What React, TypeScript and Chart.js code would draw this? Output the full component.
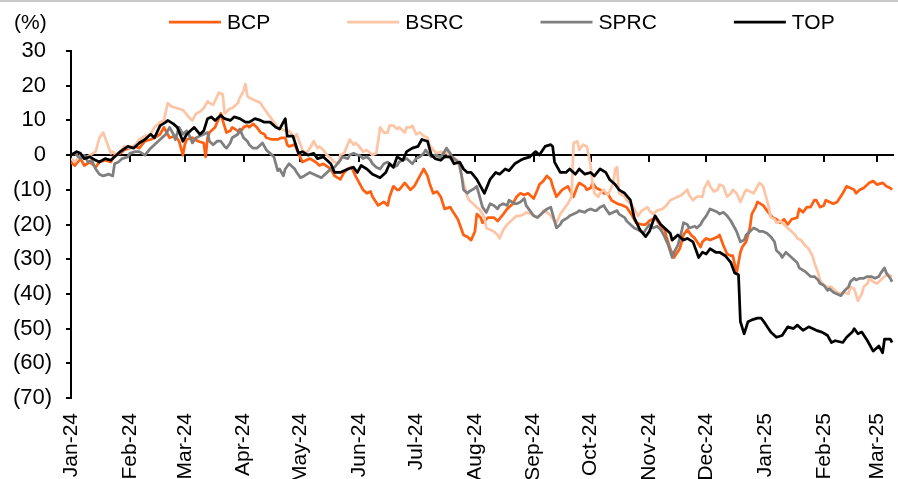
import React, { useEffect, useRef } from 'react';
import { Chart, registerables } from 'chart.js';

Chart.register(...registerables);

// x = calendar days since 1 Jan 2024, y = % change
const monthLabels = ['Jan-24', 'Feb-24', 'Mar-24', 'Apr-24', 'May-24', 'Jun-24', 'Jul-24', 'Aug-24', 'Sep-24', 'Oct-24', 'Nov-24', 'Dec-24', 'Jan-25', 'Feb-25', 'Mar-25'];
const seriesNames = ['BCP', 'BSRC', 'SPRC', 'TOP'];
const seriesColors = ['#FF6011', '#FCC5A5', '#7F7F7F', '#000000'];
const yMin = -70;
const yMax = 30;
const yStep = 10;
const lastDay = 434;

const bcpSeries: [number, number][] = [
  [0,-2],[2,-3],[5,-1],[7,-3],[10,-2],[13,-3.5],[15,-2],[18,-1.5],[21,-2],[23,0],[26,0.5],[28,1.5],[31,2],[34,2.5],[36,2],[39,4],[42,4.5],[44,5],[47,6],[49,8],[51,6],[52,5],[55,5.5],[57,4],[59,0],[60,3],[61,4.5],[64,5],[67,4],[70,3.5],[71,-0.5],[72,5],[73,6.5],[76,8],[79,12],[80,10],[82,6.5],[84,7],[85,8],[88,7],[89,6.5],[91,8],[93,8.5],[94,8],[96,9],[98,8],[100,6.5],[102,6],[103,5],[106,4.5],[109,4.5],[111,5],[113,5],[114,3],[115,2.5],[118,3],[120,0.5],
  [122,-2],[124,-1.5],[126,-1],[129,-2],[131,-3],[133,-2.5],[137,-4],[139,-6],[142,-7],[144,-5],[146,-4],[148,-3.5],[150,-6],[152,-8],[154,-10],[156,-11],[158,-10.5],[159,-12],[162,-14.5],[165,-13.5],[167,-14.5],[168,-12],[170,-9],[172,-10],[173,-10],[176,-8],[179,-10],[181,-9],[182,-8],[184,-6],[186,-4],[188,-6],[189,-8],[191,-11],[193,-10.5],[195,-12],[197,-15.5],[200,-15],[201,-16],[204,-18.5],[205,-20],[207,-23],[209,-23.5],[211,-24.5],[213,-22],[214,-17],[216,-18],[217,-19.5],[220,-18],[223,-18],[225,-19],[228,-17],[230,-15.5],[231,-15],[233,-14],[235,-12],[237,-11],[239,-11.5],[241,-11],[244,-12.5],[246,-10],[247,-8.5],[249,-7.5],[251,-6],[253,-7],[254,-9],[256,-12],[259,-10],[262,-9],[265,-12],[267,-9],[268,-8],[271,-9],[272,-10],[274,-9.5],[275,-8],[277,-9.5],[279,-10],
  [281,-11],[283,-11],[285,-13],[288,-14],[291,-14.5],[293,-15],[296,-17.5],[298,-19.5],[301,-20],[303,-20],[305,-19],[308,-18],[311,-20.5],[313,-21.5],[314,-23.5],[316,-27],[318,-29.5],[321,-27],[323,-23],[325,-21.5],[327,-23],[329,-24],[332,-26.5],[333,-25],[335,-24],[337,-24.5],[339,-24],[341,-23.5],[342,-23],[344,-26],[346,-28.5],[348,-29],[349,-29],[351,-34],[353,-28],[354,-26.5],[356,-25],[358,-21],[359,-17],[361,-15],[362,-13.5],[365,-14.5],[367,-16],[370,-18],[372,-18.5],[374,-19.5],[376,-18.5],[378,-20],[380,-18.5],[383,-18],[384,-15.5],[386,-16.5],[388,-15],[390,-15],[392,-13],[393,-13],[395,-15],[397,-14.5],[398,-13],[400,-13.5],[402,-14],[404,-13.5],[407,-11],[409,-9],[411,-9.5],[413,-10],[414,-11],[416,-10],[418,-9.5],[420,-8.5],[421,-8],[423,-7.5],[425,-8.5],[428,-8],[430,-9],[432,-9.5],[433,-10],
];

const bsrcSeries: [number, number][] = [
  [0,-1],[2,-2],[5,0],[7,-1],[10,0],[13,1],[15,5],[17,6.5],[18,5],[21,0.5],[22,1],[24,0],[26,1],[28,2.5],[31,2],[34,3],[36,4.5],[39,5.5],[42,6],[44,8],[47,9.5],[49,10],[51,15],[53,14],[56,13.5],[59,13],[62,11],[64,10],[66,12],[68,12.5],[70,13.5],[72,15.5],[73,15],[75,14.5],[78,18],[80,17.5],[81,12],[82,12.5],[84,13.5],[85,13.5],[88,15],[89,16.5],[91,18.5],[92,20.5],[93,17],[94,16.5],[96,16],[98,15.5],[100,15],[101,14],[103,12.5],[105,11],[107,9.5],[109,8],[111,7.5],[113,7],[115,7],[118,5],[119,6],
  [121,3],[122,1.5],[124,0.5],[126,2],[128,4],[130,2],[131,2.5],[133,1.5],[135,0],[137,-1],[139,-2],[141,-2.5],[142,0],[144,0.5],[147,4.5],[149,3],[150,3.5],[152,2.5],[154,1],[156,1.5],[159,0],[161,0.5],[163,8],[165,6.5],[167,6.5],[168,8.5],[170,8.5],[172,7.5],[173,8],[176,6.5],[177,8],[179,8],[180,8.5],[182,6],[184,6.5],[186,5.5],[188,5],[189,3],[191,1.5],[193,0.5],[195,1],[197,0.5],[198,1],[200,-1],[201,-0.5],[204,-1.5],[205,-4],[207,-8],[209,-12],[210,-13],[212,-14],[214,-15],[216,-16],[218,-18],[219,-21],[221,-21.5],[223,-22],[225,-23],[226,-24],[228,-21.5],[230,-20],[231,-19.5],[234,-18],[235,-17.5],[237,-17.5],[239,-17],[240,-16.5],[243,-17],[244,-17.5],[246,-18],[248,-17],[249,-16],[251,-16.5],[253,-17.5],[255,-19],[256,-19.5],[258,-17],[260,-15.5],[262,-14],[264,-12],[265,3.5],[267,4],[268,1.5],[270,3],[272,2.5],[273,0],[274,-3],[275,-8],[276,-11],[278,-12],[279,-11],
  [281,-10],[283,-11.5],[284,-10.5],[286,-8],[287,-4],[288,-3.5],[289,-11],[292,-12],[293,-13],[295,-14],[297,-15.5],[299,-17.5],[301,-16],[304,-15],[305,-16],[307,-17],[309,-16],[312,-15.5],[314,-14.5],[316,-13],[318,-12.5],[320,-12],[322,-11.5],[325,-10],[326,-11.5],[328,-13],[330,-12],[333,-12],[334,-9.5],[336,-7.5],[337,-9],[339,-10.5],[341,-10],[342,-8.5],[344,-9],[346,-12],[348,-11],[349,-10],[351,-11],[353,-13.5],[355,-11],[356,-10],[358,-10.5],[360,-11],[362,-9],[363,-8],[365,-9],[366,-11],[368,-15],[369,-18],[371,-18.5],[372,-19.5],[374,-19],[376,-20],[378,-21],[380,-22],[382,-23],[383,-24],[385,-24.5],[387,-26],[389,-27],[391,-29],[392,-31],[394,-34],[395,-36],[397,-37.5],[399,-38],[401,-38],[403,-39],[405,-40],[408,-39.5],[410,-40],[411,-38],[413,-38.5],[415,-42],[417,-40],[418,-38],[420,-37],[421,-35.5],[423,-36.5],[425,-37],[427,-36],[429,-35],[431,-34.5],[433,-35],
];

const sprcSeries: [number, number][] = [
  [0,0],[2,0.5],[5,-1],[7,0],[9,-2],[11,-1.5],[13,-4],[15,-5.5],[17,-6],[20,-5.5],[22,-6],[23,-2.5],[25,-2],[27,-1],[30,-0.5],[31,0.5],[34,1],[36,1],[39,0],[42,2],[44,3],[47,4.5],[50,6],[52,8],[54,6],[55,4.5],[57,8],[59,6],[61,7],[63,5],[64,3.5],[66,5],[68,5.5],[70,6],[72,6.5],[73,4],[75,3],[77,4],[79,4],[81,2.5],[82,2],[84,3.5],[85,5],[88,6],[89,7.5],[91,5],[93,4],[94,3],[96,2],[98,2],[100,3],[101,3.5],[103,1.5],[105,0.5],[107,-0.5],[109,-4.5],[110,-4],[112,-6],[113,-4],[115,-2.5],[118,-4],[119,-5],
  [121,-6.5],[123,-6],[126,-5],[128,-5.5],[130,-6],[132,-6.5],[135,-5],[137,-4],[139,-3.5],[142,-1.5],[143,-0.5],[146,-1],[147,0],[149,0.5],[151,0],[152,0],[154,-1],[156,-0.5],[158,-1.5],[159,-2.5],[161,-3.5],[163,-4],[165,-2.5],[167,-2],[169,-3],[170,-3.5],[172,-3],[173,-2],[175,-1.5],[177,-1],[179,-2],[180,-2.5],[182,-1],[184,-0.5],[186,0.5],[187,1.5],[189,0],[190,-0.5],[192,0],[195,-0.5],[197,1],[198,2],[200,0.5],[201,-0.5],[204,-2],[205,-3],[206,-6],[207,-10],[209,-11],[210,-10.5],[213,-9.5],[214,-9],[216,-13],[217,-15],[219,-16.5],[221,-14],[223,-14.5],[225,-15.5],[226,-14.5],[228,-14],[230,-14.5],[231,-13],[234,-14],[235,-14],[237,-13.5],[239,-12.5],[240,-14.5],[242,-16],[244,-17.5],[246,-18],[248,-17],[249,-16.5],[251,-15.5],[253,-15],[254,-17],[256,-21],[258,-20],[259,-19],[262,-18],[263,-17.5],[265,-17],[267,-16.5],[268,-16],[271,-16.5],[272,-16],[274,-15.5],[276,-16],[277,-16],[279,-15],
  [281,-14.5],[282,-15.5],[284,-17],[286,-16.5],[288,-16],[289,-17],[292,-18],[293,-19],[295,-20],[297,-21],[299,-21.5],[302,-22.5],[303,-21.5],[305,-20],[307,-21],[309,-20.5],[311,-21.5],[313,-23.5],[315,-26],[317,-29.5],[318,-28],[320,-26],[322,-22],[323,-19.5],[325,-20],[326,-21],[329,-20.5],[330,-21],[332,-20],[333,-19],[335,-17.5],[337,-15.5],[339,-16],[341,-16.5],[342,-17],[344,-16.5],[346,-17.5],[348,-19],[350,-21],[351,-22],[353,-25],[355,-24.5],[356,-23],[358,-22],[360,-21],[362,-21.5],[363,-22],[365,-22],[367,-22.5],[369,-23.5],[371,-25],[372,-27.5],[374,-28.5],[375,-29.5],[377,-28],[379,-29],[381,-30],[383,-31],[384,-32.5],[387,-33.5],[388,-34],[390,-35],[392,-35],[394,-36],[395,-37],[397,-37.5],[399,-39],[400,-38.5],[402,-39.5],[404,-40],[406,-40.5],[408,-39],[410,-38],[411,-36.5],[413,-35.5],[414,-36],[416,-35.5],[418,-35.5],[420,-35],[422,-35],[424,-35.5],[426,-35],[427,-34],[429,-32.5],[430,-34],[432,-35.5],[433,-36.5],
];

const topSeries: [number, number][] = [
  [0,0],[3,1],[5,0.5],[7,-1],[10,-0.5],[13,-1.5],[15,-2],[18,-1],[21,-1.5],[23,-0.5],[26,1],[30,2.5],[33,2],[36,3.5],[39,4.5],[42,6],[44,5],[47,8.5],[50,9.5],[51,10],[54,9],[56,8],[59,4],[61,6],[63,7],[65,8],[68,6],[70,7],[72,10.5],[74,11],[76,10],[79,11.5],[81,10.5],[84,10],[86,11],[89,10.5],[92,9.5],[94,9.5],[97,10.5],[100,10],[102,9.5],[105,9.5],[108,8],[110,7.5],[113,10.5],[114,5.5],[117,5.5],[120,0.5],
  [122,1],[125,0],[128,0.5],[130,-1],[133,-0.5],[137,-2.5],[139,-5],[142,-5],[146,-4],[149,-3.5],[151,-5],[153,-3],[156,-4],[159,-5.5],[163,-6.5],[166,-5],[168,-2.5],[170,-3.5],[172,-0.5],[175,-1.5],[177,1],[180,2],[183,2.5],[185,4.5],[188,4],[190,0],[192,-1],[195,-1.5],[197,-0.5],[200,-0.5],[202,-2.5],[205,-2],[207,-4],[209,-5],[211,-5],[214,-7],[216,-9],[218,-11],[221,-7],[224,-5],[226,-5.5],[229,-4],[231,-4.5],[234,-2.5],[237,-1.5],[239,-1],[242,-0.5],[245,1],[247,0],[250,2.5],[253,3],[254,2.5],[255,-2],[258,-5],[261,-5],[263,-4],[266,-5.5],[268,-4],[271,-5.5],[274,-5],[276,-6],[279,-4],
  [282,-5],[284,-7],[287,-8.5],[289,-10],[292,-11],[295,-13],[297,-18],[300,-21.5],[303,-23.5],[305,-22],[308,-17.5],[311,-20],[313,-21],[316,-22.5],[317,-24.5],[320,-23],[323,-24.5],[325,-24],[328,-25],[331,-29.5],[333,-28],[335,-28.5],[337,-27],[340,-28],[342,-28],[345,-29],[348,-31],[350,-34],[352,-34.5],[353,-48],[355,-51.5],[357,-48],[359,-47.5],[362,-47],[364,-47],[366,-48.5],[369,-51],[372,-52.5],[375,-52],[378,-49.5],[381,-50],[383,-49],[386,-50.5],[389,-49.5],[391,-50],[393,-50.5],[396,-51],[399,-52],[401,-54],[403,-53.5],[407,-54],[409,-52.5],[412,-51],[413,-50],[415,-51.5],[417,-51],[420,-53.5],[423,-56.5],[426,-55],[428,-57],[429,-53],[432,-53],[433,-54],
];

const allSeries = [bcpSeries, bsrcSeries, sprcSeries, topSeries];

const FONT = '"Liberation Sans", Arial, Helvetica, sans-serif';
const BASE = Date.UTC(2024, 0, 1);
const DAY_MS = 86400000;
const monthDays = monthLabels.map((_, i) => Math.round((Date.UTC(2024, i, 1) - BASE) / DAY_MS));

const overlayPlugin = {
  id: 'overlay',
  beforeDatasetsDraw(chart: any) {
    const ctx = chart.ctx;
    const xs = chart.scales.x;
    const ys = chart.scales.y;
    const y0 = ys.getPixelForValue(0);
    ctx.save();
    ctx.strokeStyle = '#000';
    ctx.lineWidth = 2;
    ctx.beginPath();
    monthDays.forEach((d) => {
      const px = Math.round(xs.getPixelForValue(d));
      ctx.moveTo(px, y0);
      ctx.lineTo(px, y0 + 7);
    });
    ctx.stroke();
    ctx.restore();
  },
  afterDraw(chart: any) {
    const ctx = chart.ctx;
    ctx.save();
    ctx.strokeStyle = '#C8C8C8';
    ctx.lineWidth = 2;
    ctx.beginPath();
    ctx.moveTo(0, 1);
    ctx.lineTo(chart.width, 1);
    ctx.stroke();

    ctx.font = `21px ${FONT}`;
    ctx.fillStyle = '#000';
    ctx.textBaseline = 'middle';
    ctx.textAlign = 'left';
    ctx.fillText('(%)', 14, 23);

    let x = 169;
    const ly = 22;
    seriesNames.forEach((name, i) => {
      ctx.strokeStyle = seriesColors[i];
      ctx.lineWidth = 2.75;
      ctx.beginPath();
      ctx.moveTo(x, ly);
      ctx.lineTo(x + 52, ly);
      ctx.stroke();
      ctx.fillStyle = '#000';
      ctx.fillText(name, x + 58, ly + 1);
      x += 58 + ctx.measureText(name).width + 77;
    });
    ctx.restore();
  },
};

export default function App() {
  const canvasRef = useRef<HTMLCanvasElement | null>(null);

  useEffect(() => {
    document.body.style.margin = '0';
    const canvas = canvasRef.current;
    if (!canvas) return;
    Chart.defaults.font.family = FONT;
    Chart.defaults.font.size = 21;
    Chart.defaults.color = '#000';

    const order = [3, 2, 1, 0];
    const chart = new Chart(canvas, {
      type: 'line',
      data: {
        datasets: allSeries.map((s, i) => ({
          label: seriesNames[i],
          data: s.map(([d, v]) => ({ x: d, y: v })),
          borderColor: seriesColors[i],
          backgroundColor: seriesColors[i],
          borderWidth: 2.75,
          pointRadius: 0,
          tension: 0,
          borderJoinStyle: 'round' as const,
          order: order[i],
        })),
      },
      options: {
        animation: false,
        responsive: false,
        maintainAspectRatio: false,
        layout: { padding: { left: 0, right: 4, top: 51, bottom: 0 } },
        plugins: {
          legend: { display: false },
          tooltip: { enabled: false },
        },
        scales: {
          x: {
            type: 'linear',
            min: 0,
            max: lastDay,
            grid: { display: false, drawTicks: false },
            border: { display: false },
            afterBuildTicks: (scale: any) => {
              scale.ticks = monthDays.map((v) => ({ value: v }));
            },
            afterFit: (scale: any) => {
              scale.height = 81;
              scale.paddingLeft = 0;
              scale.paddingRight = 0;
            },
            ticks: {
              autoSkip: false,
              maxRotation: 90,
              minRotation: 90,
              padding: 15,
              color: '#000',
              font: { size: 21, family: FONT },
              callback: (_v: any, idx: number) => monthLabels[idx],
            },
          },
          y: {
            type: 'linear',
            min: yMin,
            max: yMax,
            afterFit: (scale: any) => {
              scale.width = 71;
            },
            ticks: {
              stepSize: yStep,
              padding: 14,
              color: '#000',
              font: { size: 22, family: FONT },
              callback: (v: any) => {
                const n = Number(v);
                return n < 0 ? `(${-n})` : `${n} `;
              },
            },
            grid: {
              color: (c: any) => (c.tick && c.tick.value === 0 ? '#000' : 'rgba(0,0,0,0)'),
              lineWidth: 2,
              tickLength: 5,
              tickColor: '#000',
              tickWidth: 2,
            },
            border: { display: true, color: '#000', width: 2 },
          },
        },
      },
      plugins: [overlayPlugin],
    });
    return () => chart.destroy();
  }, []);

  return (
    <div style={{ width: 898, height: 479 }}>
      <canvas ref={canvasRef} width={898} height={479} style={{ display: 'block' }} />
    </div>
  );
}
